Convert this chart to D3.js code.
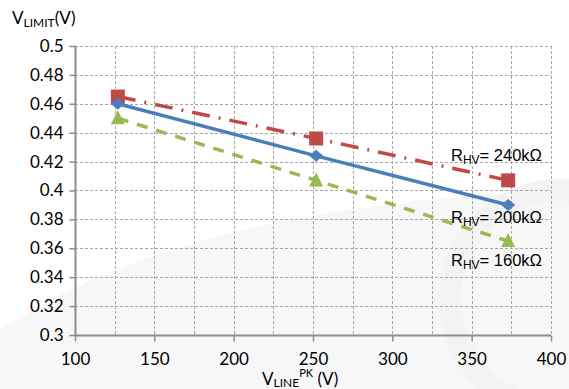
<!DOCTYPE html>
<html>
<head>
<script src="https://d3js.org/d3.v7.min.js"></script>
<style>
body { margin: 0; background: #fff; }
svg text { font-family: Lato, "Open Sans", sans-serif; }
.lbl { font-family: "Liberation Sans", Arial, sans-serif !important; }
</style>
</head>
<body>
<svg width="569" height="389"></svg>
<script>
// data
var vline = [127, 252, 373];
var r240 = [0.465, 0.436, 0.407];
var r200 = [0.460, 0.424, 0.390];
var r160 = [0.450, 0.407, 0.365];
var xTicks = [100, 150, 200, 250, 300, 350, 400];
var yTicks = [0.3, 0.32, 0.34, 0.36, 0.38, 0.4, 0.42, 0.44, 0.46, 0.48, 0.5];

var svg = d3.select("svg");
var x = d3.scaleLinear().domain([100, 400]).range([75, 551]);
var y = d3.scaleLinear().domain([0.3, 0.5]).range([335, 46]);

// faint watermark
svg.append("path")
  .attr("d", "M0,330 C120,250 300,200 569,190 L569,389 L0,389 Z")
  .attr("fill", "#f7f7f7");
svg.append("circle").attr("cx", 560).attr("cy", 300).attr("r", 110)
  .attr("fill", "none").attr("stroke", "#f3f3f3").attr("stroke-width", 22);

// grid
var grid = svg.append("g").attr("stroke", "#a6a6a6").attr("stroke-dasharray", "3,2").attr("stroke-width", 1);
grid.selectAll(".h").data(yTicks.slice(1)).enter().append("line")
  .attr("x1", 75).attr("x2", 551)
  .attr("y1", function(d){return Math.round(y(d)) + 0.5;})
  .attr("y2", function(d){return Math.round(y(d)) + 0.5;});
grid.selectAll(".v").data(d3.range(125, 401, 25)).enter().append("line")
  .attr("y1", 46).attr("y2", 335)
  .attr("x1", function(d){return Math.round(x(d)) + 0.5;})
  .attr("x2", function(d){return Math.round(x(d)) + 0.5;});

// axes
var yAxis = svg.append("g").attr("transform", "translate(75.5,0)")
  .call(d3.axisLeft(y).tickValues(yTicks).tickSize(6).tickPadding(6)
    .tickFormat(function(d){return d3.format("~g")(+d.toFixed(2));}));
var xAxis = svg.append("g").attr("transform", "translate(0,335.5)")
  .call(d3.axisBottom(x).tickValues(xTicks).tickSize(6).tickPadding(11));
[xAxis, yAxis].forEach(function(a){
  a.select(".domain").attr("stroke", "#8c8c8c").attr("stroke-width", 2);
  a.selectAll(".tick line").attr("stroke", "#8c8c8c").attr("stroke-width", 1.5);
  a.selectAll(".tick text").attr("fill", "#000").style("font-size", "17px");
});
yAxis.select(".domain").attr("d", "M0,46V335");
xAxis.select(".domain").attr("d", "M75,0H551");

// series
var series = [
  {v: r240, color: "#BE4B48", dash: "18,9,2,9"},
  {v: r200, color: "#4A7EBB", dash: null},
  {v: r160, color: "#98B954", dash: "11,9"}
];
var line = d3.line().x(function(d,i){return x(vline[i]);}).y(function(d){return y(d);});
series.forEach(function(s){
  svg.append("path").datum(s.v).attr("d", line)
    .attr("fill", "none").attr("stroke", s.color).attr("stroke-width", 3.5)
    .attr("stroke-dasharray", s.dash);
});
// markers
svg.selectAll(".sq").data(r240).enter().append("rect")
  .attr("x", function(d,i){return x(vline[i]) - 7;})
  .attr("y", function(d){return y(d) - 7;})
  .attr("width", 14).attr("height", 14).attr("fill", "#BE4B48");
svg.selectAll(".dm").data(r200).enter().append("path")
  .attr("d", function(d,i){var cx = x(vline[i]), cy = y(d);
    return "M" + cx + "," + (cy-6) + "L" + (cx+7) + "," + cy + "L" + cx + "," + (cy+6) + "L" + (cx-7) + "," + cy + "Z";})
  .attr("fill", "#4A7EBB");
svg.selectAll(".tr").data(r160).enter().append("path")
  .attr("d", function(d,i){var cx = x(vline[i]), cy = y(d);
    return "M" + cx + "," + (cy-8) + "L" + (cx+7) + "," + (cy+6) + "L" + (cx-7) + "," + (cy+6) + "Z";})
  .attr("fill", "#98B954");

// series labels
var labels = [{t: "240kΩ", x: 451, y: 161}, {t: "200kΩ", x: 451, y: 223}, {t: "160kΩ", x: 451, y: 266}];
labels.forEach(function(l){
  var t = svg.append("text").attr("class", "lbl").attr("x", l.x).attr("y", l.y)
    .style("font-size", "16.5px").attr("fill", "#000");
  t.append("tspan").text("R");
  t.append("tspan").attr("dy", 3).style("font-size", "12px").text("HV");
  t.append("tspan").attr("dy", -3).text("= " + l.t);
});

// axis titles
var yt = svg.append("text").attr("x", 12).attr("y", 24).style("font-size", "17px").attr("fill", "#000");
yt.append("tspan").text("V");
yt.append("tspan").attr("dy", 3).style("font-size", "12px").text("LIMIT");
yt.append("tspan").attr("dy", -3).text("(V)");

var xt = svg.append("text").attr("x", 262).attr("y", 385).style("font-size", "17px").attr("fill", "#000");
xt.append("tspan").text("V");
xt.append("tspan").attr("dy", 2).style("font-size", "12px").text("LINE");
xt.append("tspan").attr("dy", -10).style("font-size", "11px").text("PK");
xt.append("tspan").attr("dy", 8).text(" (V)");
</script>
</body>
</html>
